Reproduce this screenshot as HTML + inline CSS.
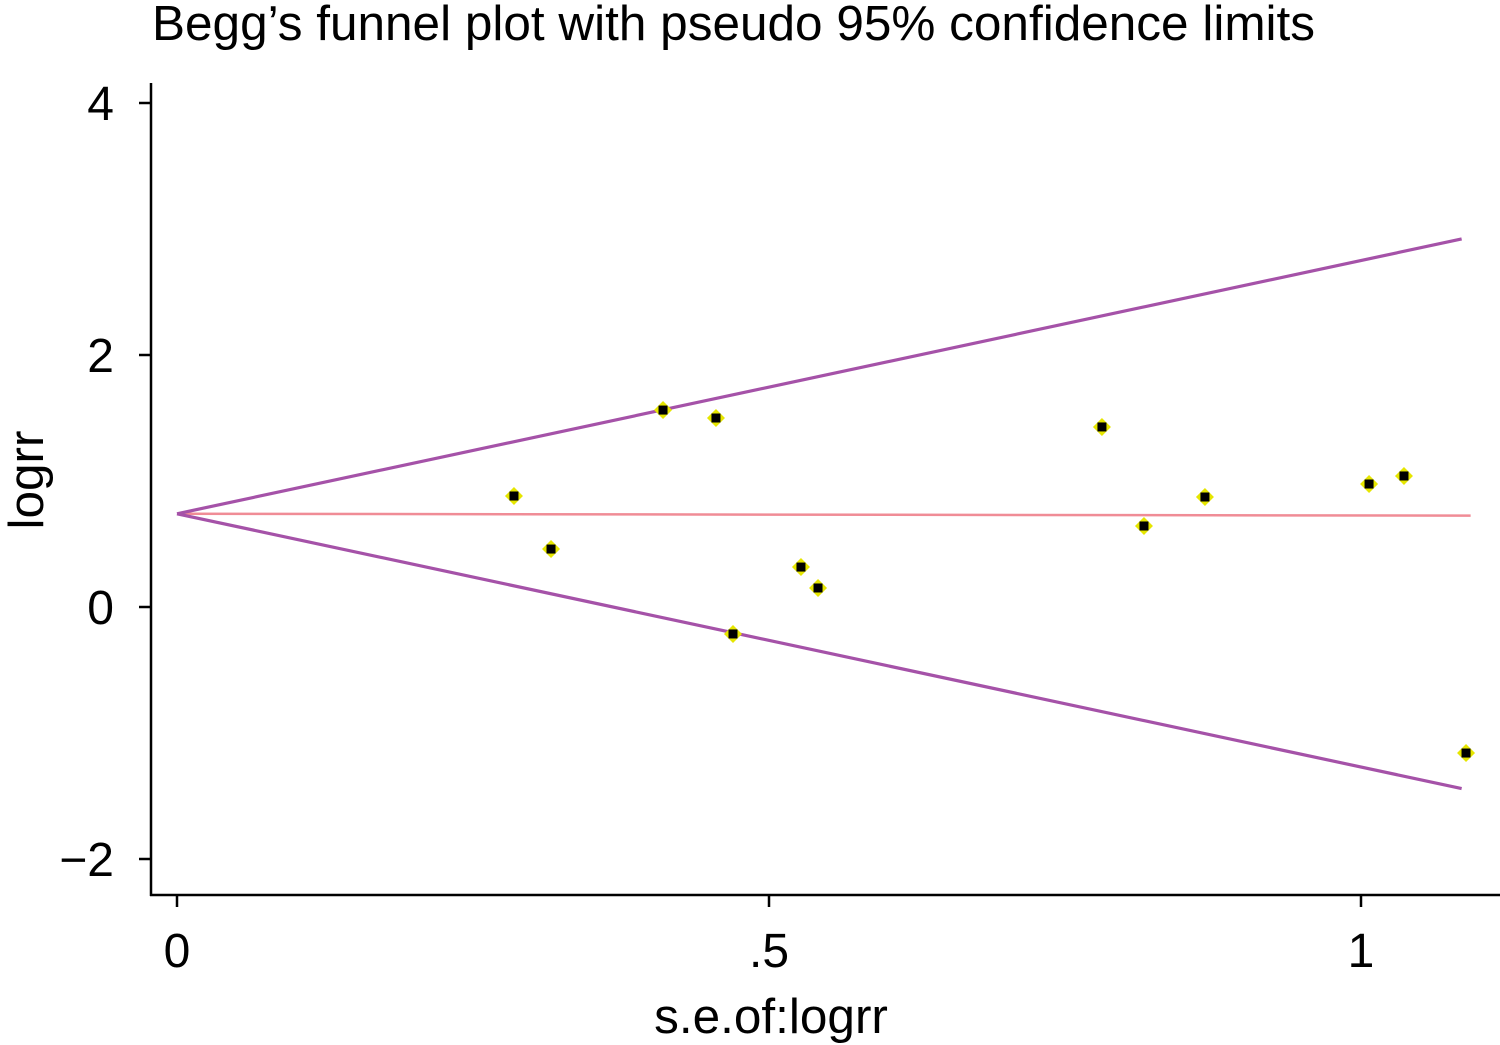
<!DOCTYPE html>
<html><head><meta charset="utf-8"><style>
html,body{margin:0;padding:0;background:#fff;}
svg{display:block;font-family:"Liberation Sans",Arial,sans-serif;}
</style></head><body>
<svg id="chart" width="1500" height="1045">
<text x="152" y="40" font-size="49.5" fill="#000">Begg’s funnel plot with pseudo 95% confidence limits</text>
<g id="axes"></g><g id="lines"></g><g id="points"></g>
<text x="771" y="1033" font-size="49.5" text-anchor="middle">s.e.of:logrr</text>
<text transform="translate(43,480) rotate(-90)" font-size="49.5" text-anchor="middle">logrr</text>
</svg>
<script>
const seValues=[0.2846,0.3159,0.4105,0.4552,0.4696,0.5270,0.5414,0.7812,0.8167,0.8682,1.0068,1.0363,1.0887];
const logrrValues=[0.881,0.460,1.563,1.500,-0.214,0.317,0.151,1.429,0.643,0.873,0.976,1.040,-1.159];
const pooledEstimate=0.74;
const maxSe=1.085;
const xTicks=[0,0.5,1];
const xTickLabels=["0",".5","1"];
const yTicks=[-2,0,2,4];
const yTickLabels=["\u22122","0","2","4"];
const NS="http://www.w3.org/2000/svg";
const Z=2.01;
const X=v=>177+v*1184, Y=v=>607-v*126;
function mk(tag,attrs,parent){const e=document.createElementNS(NS,tag);for(const k in attrs)e.setAttribute(k,attrs[k]);parent.appendChild(e);return e;}
const ax=document.getElementById('axes'),ln=document.getElementById('lines'),pt=document.getElementById('points');
let e=mk('line',{x1:151,y1:83,x2:151,y2:896,stroke:'#000','stroke-width':2.5},ax);

e=mk('line',{x1:150,y1:895,x2:1500,y2:895,stroke:'#000','stroke-width':2.5},ax);

yTicks.forEach((t,i)=>{
 e=mk('line',{x1:139,y1:Y(t),x2:151,y2:Y(t),stroke:'#000','stroke-width':2.5},ax);
 
 e=mk('text',{x:114,y:Y(t)+17,'font-size':48,'text-anchor':'end'},ax);e.textContent=yTickLabels[i];
 
});
xTicks.forEach((t,i)=>{
 e=mk('line',{x1:X(t),y1:895,x2:X(t),y2:907,stroke:'#000','stroke-width':2.5},ax);
 
 e=mk('text',{x:X(t),y:967,'font-size':48,'text-anchor':'middle'},ax);e.textContent=xTickLabels[i];
 
});
e=mk('line',{x1:X(0),y1:Y(pooledEstimate),x2:X(maxSe)+9,y2:Y(pooledEstimate-0.015),stroke:'#f08c96','stroke-width':2.5},ln);

e=mk('line',{x1:X(0),y1:Y(pooledEstimate),x2:X(maxSe),y2:Y(pooledEstimate+Z*maxSe),stroke:'#a552a8','stroke-width':3.2},ln);

e=mk('line',{x1:X(0),y1:Y(pooledEstimate),x2:X(maxSe),y2:Y(pooledEstimate-Z*maxSe),stroke:'#a552a8','stroke-width':3.2},ln);

seValues.forEach((s,i)=>{
 const cx=X(s),cy=Y(logrrValues[i]);
 const g=mk('g',{},pt);
 
 mk('polygon',{points:`${cx},${cy-9} ${cx+9},${cy} ${cx},${cy+9} ${cx-9},${cy}`,fill:'#e6e600'},g);
 mk('rect',{x:cx-4.5,y:cy-4.5,width:9,height:9,fill:'#000'},g);
});
</script>
</body></html>
